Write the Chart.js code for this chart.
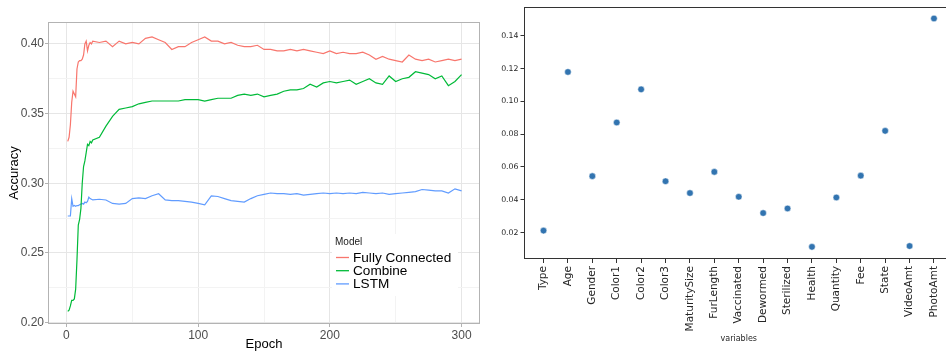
<!DOCTYPE html>
<html><head><meta charset="utf-8">
<script src="https://cdn.jsdelivr.net/npm/chart.js@4/dist/chart.umd.min.js"></script>
<style>
html,body{margin:0;padding:0;background:#fff;overflow:hidden;width:946px;height:352px;position:relative;}
#c1{position:absolute;left:0;top:0;}
#c2{position:absolute;left:486px;top:0;}
</style></head><body>
<canvas id="c1" width="486" height="352" style="width:486px;height:352px"></canvas>
<canvas id="c2" width="472" height="352" style="width:472px;height:352px"></canvas>
<script>
// ---- Left panel data ----
const epochs = [1,2,3,4,5,6,7,8,9,10,11,12,13,14,15,16,17,18,19,20,
  25,30,35,40,45,50,55,60,65,70,75,80,85,90,95,100,105,110,115,120,
  125,130,135,140,145,150,155,160,165,170,175,180,185,190,195,200,205,210,215,220,
  225,230,235,240,245,250,255,260,265,270,275,280,285,290,295,300];
const fullyConnected = [0.330,0.333,0.342,0.358,0.366,0.364,0.362,0.382,0.387,0.388,0.388,0.389,0.392,0.400,0.402,0.395,0.399,0.401,0.400,0.402,
  0.401,0.402,0.398,0.402,0.400,0.401,0.400,0.404,0.405,0.403,0.401,0.396,0.398,0.398,0.401,0.403,0.405,0.402,0.402,0.400,
  0.401,0.399,0.398,0.398,0.399,0.396,0.396,0.395,0.395,0.396,0.395,0.396,0.395,0.394,0.393,0.395,0.393,0.394,0.393,0.393,
  0.394,0.392,0.389,0.391,0.389,0.388,0.387,0.392,0.389,0.388,0.389,0.387,0.388,0.389,0.388,0.389];
const combine = [0.208,0.209,0.212,0.216,0.216,0.217,0.224,0.245,0.270,0.274,0.282,0.300,0.312,0.316,0.322,0.328,0.327,0.330,0.329,0.331,
  0.333,0.341,0.348,0.353,0.354,0.355,0.357,0.358,0.359,0.359,0.359,0.359,0.359,0.360,0.360,0.360,0.359,0.360,0.361,0.361,
  0.361,0.363,0.364,0.363,0.364,0.362,0.363,0.364,0.366,0.367,0.367,0.368,0.371,0.369,0.372,0.373,0.372,0.373,0.374,0.371,
  0.373,0.375,0.372,0.371,0.377,0.373,0.375,0.376,0.380,0.379,0.378,0.375,0.377,0.370,0.373,0.378];
const lstm = [0.2765,0.2765,0.2765,0.289,0.2835,0.284,0.2835,0.284,0.284,0.2845,0.285,0.2855,0.285,0.2865,0.286,0.287,0.290,0.289,0.2885,0.288,
  0.2885,0.288,0.2855,0.285,0.2855,0.289,0.2895,0.289,0.291,0.2925,0.288,0.2875,0.2875,0.287,0.2865,0.2855,0.2845,0.291,0.2905,0.289,
  0.2875,0.287,0.2865,0.289,0.291,0.292,0.293,0.2925,0.2925,0.292,0.2925,0.2915,0.292,0.2925,0.293,0.2925,0.293,0.2925,0.293,0.2925,
  0.2935,0.293,0.2925,0.293,0.292,0.2925,0.293,0.2935,0.294,0.2955,0.295,0.2945,0.2945,0.293,0.296,0.2945];
const accuracyTicks = [0.2,0.225,0.25,0.275,0.3,0.325,0.35,0.375,0.4];
const epochTicks = [0,50,100,150,200,250,300];
const seriesNames = ['Fully Connected','Combine','LSTM'];
const legendTitle = 'Model';

// ---- Right panel data ----
const variables = ['Type','Age','Gender','Color1','Color2','Color3','MaturitySize','FurLength','Vaccinated','Dewormed','Sterilized','Health','Quantity','Fee','State','VideoAmt','PhotoAmt'];
const importance = [0.0212,0.1179,0.0544,0.0871,0.1073,0.0513,0.0441,0.0570,0.0418,0.0319,0.0347,0.0113,0.0414,0.0547,0.0820,0.0118,0.1505];
const importanceTicks = [0.02,0.04,0.06,0.08,0.10,0.12,0.14];

const SANS = '"Liberation Sans", Arial, Helvetica, sans-serif';
const DV = '"DejaVu Sans", sans-serif';
const colors = ['#F8766D','#00BA38','#619CFF'];

function isMajor(v, step){ return Math.abs(v/step - Math.round(v/step)) < 1e-6; }

const panelBorder = {
  id:'panelBorder',
  afterDatasetsDraw(chart){
    const a = chart.chartArea, c = chart.ctx;
    c.save(); c.strokeStyle = '#b3b3b3'; c.lineWidth = 1;
    c.strokeRect(Math.round(a.left)+0.5, Math.round(a.top)+0.5, Math.round(a.right-a.left)-1, Math.round(a.bottom-a.top)-1);
    c.restore();
  }
};
const insideLegend = {
  id:'insideLegend',
  afterDraw(chart){
    const c = chart.ctx;
    c.save();
    c.fillStyle = '#fff'; c.fillRect(332, 234, 126, 62);
    c.fillStyle = '#1a1a1a'; c.font = '10px ' + SANS; c.textBaseline = 'middle'; c.textAlign = 'left';
    c.fillText(legendTitle, 335, 242);
    chart.data.datasets.forEach((ds, i) => {
      const y = 257.5 + 13.2*i;
      c.strokeStyle = ds.borderColor; c.lineWidth = 1.3;
      c.beginPath(); c.moveTo(336, y); c.lineTo(349, y); c.stroke();
      c.fillStyle = '#000'; c.font = '13.6px ' + SANS;
      c.fillText(ds.label, 353, y + 0.5);
    });
    c.restore();
  }
};

new Chart(document.getElementById('c1'), {
  type:'line',
  data:{ datasets: [fullyConnected, combine, lstm].map((arr, i) => ({
    label: seriesNames[i],
    data: epochs.map((e, k) => ({x:e, y:arr[k]})),
    borderColor: colors[i], borderWidth: 1.2, pointRadius: 0, tension: 0, fill:false
  }))},
  options:{
    responsive:false, animation:false, devicePixelRatio:1,
    layout:{padding:{top:22, right:6, bottom:0, left:0}},
    plugins:{legend:{display:false}, tooltip:{enabled:false}},
    scales:{
      x:{ type:'linear', min:-14, max:314,
        afterBuildTicks: s => { s.ticks = epochTicks.map(v => ({value:v})); },
        afterFit: s => { s.height = 28; },
        border:{display:false},
        grid:{ color: ctx => (ctx.tick && isMajor(ctx.tick.value,100)) ? '#e6e6e6' : '#f3f3f3',
               tickColor: ctx => (ctx.tick && isMajor(ctx.tick.value,100)) ? '#b3b3b3' : 'rgba(0,0,0,0)',
               lineWidth:1, tickLength:3 },
        ticks:{ autoSkip:false, maxRotation:0, padding:1, color:'#4d4d4d', font:{family:SANS, size:12},
                callback: v => isMajor(v,100) ? String(v) : '' },
        title:{ display:true, text:'Epoch', color:'#000', font:{family:SANS, size:13}, padding:{top:0,bottom:0} }
      },
      y:{ type:'linear', min:0.199, max:0.4157,
        afterBuildTicks: s => { s.ticks = accuracyTicks.map(v => ({value:v})); },
        afterFit: s => { s.width = 48; },
        border:{display:false},
        grid:{ color: ctx => (ctx.tick && isMajor(ctx.tick.value,0.05)) ? '#e6e6e6' : '#f3f3f3',
               tickColor: ctx => (ctx.tick && isMajor(ctx.tick.value,0.05)) ? '#b3b3b3' : 'rgba(0,0,0,0)',
               lineWidth:1, tickLength:3 },
        ticks:{ autoSkip:false, padding:1, color:'#4d4d4d', font:{family:SANS, size:12},
                callback: v => isMajor(v,0.05) ? v.toFixed(2) : '' },
        title:{ display:true, text:'Accuracy', color:'#000', font:{family:SANS, size:13}, padding:{top:7,bottom:0} }
      }
    }
  },
  plugins:[panelBorder, insideLegend]
});

const spines = {
  id:'spines',
  afterDatasetsDraw(chart){
    const a = chart.chartArea, c = chart.ctx;
    c.save(); c.strokeStyle = '#333'; c.lineWidth = 1;
    c.strokeRect(Math.round(a.left)+0.5, Math.round(a.top)+0.5, Math.round(a.right-a.left)-1, Math.round(a.bottom-a.top)-1);
    c.restore();
  }
};

new Chart(document.getElementById('c2'), {
  type:'scatter',
  data:{ datasets:[{ label:'importance', data: importance.map((v,i) => ({x:i, y:v})),
    backgroundColor:'#3274b0', borderColor:'#ffffff', borderWidth:0.5, pointRadius:3.3 }]},
  options:{
    responsive:false, animation:false, devicePixelRatio:1,
    layout:{padding:{top:7, right:1, bottom:0, left:0}},
    plugins:{legend:{display:false}, tooltip:{enabled:false}},
    scales:{
      x:{ type:'linear', min:-0.8, max:16.8,
        afterBuildTicks: s => { s.ticks = variables.map((_, i) => ({value:i})); },
        afterFit: s => { s.height = 93; },
        border:{display:false},
        grid:{ drawOnChartArea:false, drawTicks:true, tickLength:4, tickColor:'#333', lineWidth:1 },
        ticks:{ autoSkip:false, minRotation:90, maxRotation:90, padding:3, color:'#262626', font:{family:DV, size:10.5},
                callback: v => variables[Math.round(v)] },
        title:{ display:true, text:'variables', color:'#262626', font:{family:DV, size:8}, padding:{top:0,bottom:8} }
      },
      y:{ type:'linear', min:0.0039, max:0.1575,
        afterBuildTicks: s => { s.ticks = importanceTicks.map(v => ({value:v})); },
        afterFit: s => { s.width = 38; },
        border:{display:false},
        grid:{ drawOnChartArea:false, drawTicks:true, tickLength:3.5, tickColor:'#333', lineWidth:1 },
        ticks:{ autoSkip:false, padding:2, color:'#262626', font:{family:DV, size:7.8},
                callback: v => v.toFixed(2) }
      }
    }
  },
  plugins:[spines]
});
</script>
</body></html>
